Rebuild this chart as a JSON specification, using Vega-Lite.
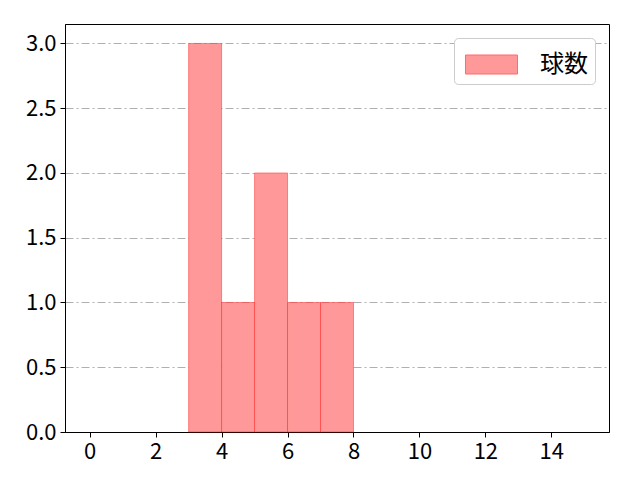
{
  "$schema": "https://vega.github.io/schema/vega-lite/v6.json",
  "width": 544,
  "height": 408,
  "autosize": "none",
  "padding": {"left": 65, "top": 24, "right": 31, "bottom": 48},
  "data": {
    "values": [
      {"start": 3, "end": 4, "count": 3, "series": "球数"},
      {"start": 4, "end": 5, "count": 1, "series": "球数"},
      {"start": 5, "end": 6, "count": 2, "series": "球数"},
      {"start": 6, "end": 7, "count": 1, "series": "球数"},
      {"start": 7, "end": 8, "count": 1, "series": "球数"}
    ]
  },
  "mark": {"type": "bar", "stroke": "red", "strokeOpacity": 0.4, "strokeWidth": 1, "opacity": 1},
  "encoding": {
    "x": {
      "field": "start",
      "type": "quantitative",
      "scale": {"domain": [-0.75, 15.75], "nice": false, "zero": false},
      "axis": {"title": null, "values": [0, 2, 4, 6, 8, 10, 12, 14], "grid": false}
    },
    "x2": {"field": "end"},
    "y": {
      "field": "count",
      "type": "quantitative",
      "scale": {"domain": [0, 3.15], "nice": false},
      "axis": {
        "title": null,
        "values": [0, 0.5, 1, 1.5, 2, 2.5, 3],
        "format": ".1f",
        "grid": true,
        "gridColor": "#b0b0b0",
        "gridDash": [8, 3, 2, 3],
        "gridWidth": 1
      }
    },
    "y2": {"datum": 0},
    "color": {
      "field": "series",
      "type": "nominal",
      "scale": {"range": ["#ff9999"]},
      "legend": {
        "title": null,
        "orient": "top-right",
        "offset": 14,
        "padding": 7,
        "cornerRadius": 4,
        "strokeColor": "#cccccc",
        "fillColor": "white",
        "symbolType": "M-1.37,-0.5h2.74v1h-2.74z",
        "symbolSize": 1444,
        "symbolOffset": 11,
        "symbolStrokeColor": "#ff6b6b",
        "symbolStrokeWidth": 1,
        "labelFontSize": 24,
        "labelOffset": 29,
        "labelExpr": "datum.label + '\u2004'",
        "labelColor": "black",
        "labelFont": "Noto Sans CJK JP"
      }
    }
  },
  "config": {
    "font": "Noto Sans CJK JP",
    "view": {"stroke": "black", "strokeWidth": 1},
    "axis": {
      "domainColor": "black",
      "tickColor": "black",
      "tickSize": 5,
      "labelPadding": 4,
      "labelFontSize": 22,
      "labelColor": "black",
      "labelFont": "Noto Sans CJK JP"
    }
  }
}
